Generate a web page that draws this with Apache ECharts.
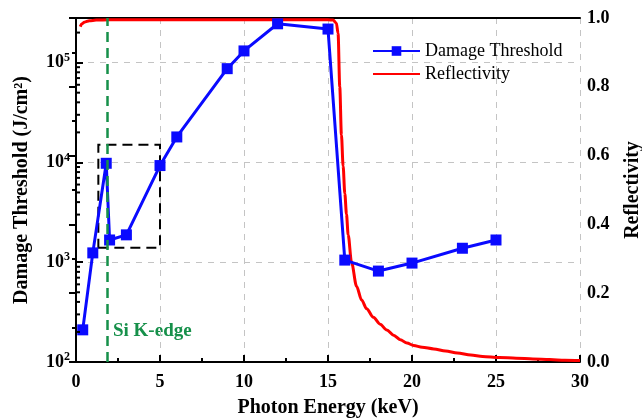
<!DOCTYPE html>
<html>
<head>
<meta charset="utf-8">
<script src="https://cdn.jsdelivr.net/npm/echarts@6/dist/echarts.min.js"></script>
<style>
html, body { margin: 0; padding: 0; background: #fff; }
#chart { width: 642px; height: 419px; }
</style>
</head>
<body>
<div id="chart"></div>
<script>
// damage threshold (J/cm^2) vs photon energy (keV)
var damageX = [0.4, 1.0, 1.8, 2.0, 3.0, 5, 6, 9, 10, 12, 15, 16, 18, 20, 23, 25];
var damageY = [210, 1240, 9800, 1670, 1880, 9300, 18000, 87000, 131000, 245000, 217000, 1050, 815, 980, 1380, 1670];

// reflectivity curve
var reflX = [0.25, 0.35, 0.5, 0.8, 1.2, 2, 4, 6, 8, 10, 12, 14, 15, 15.3, 15.5, 15.6, 15.7, 15.8, 15.9, 16.0,
    16.1, 16.2, 16.4, 16.7, 17.0, 17.3, 17.7, 18.1, 18.5, 18.9, 19.3, 19.7, 20.1, 20.6, 21.3, 22.0, 22.7,
    23.5, 24.2, 25.2, 26.2, 27.2, 28.2, 29.1, 30];
var reflY = [0.975, 0.983, 0.988, 0.992, 0.994, 0.995, 0.995, 0.995, 0.995, 0.995, 0.995, 0.995, 0.995, 0.994,
    0.985, 0.955, 0.80, 0.66, 0.57, 0.49, 0.43, 0.37, 0.29, 0.22, 0.18, 0.155, 0.13, 0.11, 0.093, 0.078, 0.065,
    0.055, 0.048, 0.043, 0.038, 0.032, 0.026, 0.02, 0.016, 0.013, 0.011, 0.009, 0.007, 0.005, 0.004];

// Si K-edge and zoom box
var siEdge = 1.84;
var boxX = [1.33, 5];
var boxY = [1400, 15000];

// log minor ticks on left axis
var logMinorTicks = [200, 300, 400, 500, 600, 700, 800, 900,
    2000, 3000, 4000, 5000, 6000, 7000, 8000, 9000,
    20000, 30000, 40000, 50000, 60000, 70000, 80000, 90000, 200000];

var serif = 'Liberation Serif';
var chart = echarts.init(document.getElementById('chart'));

function pair(xs, ys) {
    var out = [];
    for (var i = 0; i < xs.length; i++) out.push([xs[i], ys[i]]);
    return out;
}

var gridLine = { show: true, lineStyle: { color: '#c4c4c4', type: [6, 6], width: 1 } };

var option = {
    animation: false,
    backgroundColor: '#fff',
    grid: {
        left: 76, right: 62, top: 18, bottom: 57,
        outerBoundsMode: 'none'
    },
    legend: {
        data: [
            { name: 'Damage Threshold' },
            { name: 'Reflectivity', itemStyle: { opacity: 0 } }
        ],
        orient: 'vertical',
        left: 372, top: 42, padding: 0,
        itemWidth: 47, itemHeight: 12, itemGap: 5,
        textStyle: { fontFamily: serif, fontSize: 18, color: '#000' }
    },
    xAxis: [{
        type: 'value', min: 0, max: 30, interval: 5,
        name: 'Photon Energy (keV)', nameLocation: 'middle', nameGap: 36,
        nameTextStyle: { fontFamily: serif, fontSize: 20, fontWeight: 'bold', color: '#000' },
        axisLine: { lineStyle: { color: '#000', width: 2 } },
        axisTick: { inside: true, length: 7, lineStyle: { width: 2, color: '#000' } },
        minorTick: { show: true, splitNumber: 2, length: 4, lineStyle: { width: 2, color: '#000' } },
        axisLabel: { fontFamily: serif, fontSize: 18, fontWeight: 'bold', color: '#000', margin: 11 },
        splitLine: gridLine
    }, {
        // top frame line
        type: 'value', position: 'top', min: 0, max: 30,
        axisLine: { show: true, lineStyle: { color: '#000', width: 2 } },
        axisTick: { show: false }, axisLabel: { show: false }, splitLine: { show: false }
    }],
    yAxis: [{
        type: 'log', logBase: 10, min: 100, max: 280000,
        name: 'Damage Threshold (J/cm²)', nameLocation: 'middle', nameGap: 44, nameRotate: 90,
        nameTextStyle: {
            fontFamily: serif, fontSize: 20, fontWeight: 'bold', color: '#000'
        },
        axisLine: { show: true, lineStyle: { color: '#000', width: 2 } },
        axisTick: { inside: true, length: 7, lineStyle: { width: 2, color: '#000' } },
        axisLabel: {
            margin: 6,
            formatter: function (v) {
                var e = Math.log10(v);
                var r = Math.round(e);
                if (Math.abs(e - r) > 1e-6) return '';
                return '{b|10}{s|' + r + '}';
            },
            rich: {
                b: { fontFamily: serif, fontSize: 18, fontWeight: 'bold', color: '#000' },
                s: { fontFamily: serif, fontSize: 12, fontWeight: 'bold', color: '#000', padding: [0, 0, 10, 0] }
            }
        },
        splitLine: gridLine
    }, {
        type: 'value', min: 0, max: 1, interval: 0.2,
        name: 'Reflectivity', nameLocation: 'middle', nameGap: 43, nameRotate: 90,
        nameTextStyle: { fontFamily: serif, fontSize: 20, fontWeight: 'bold', color: '#000' },
        axisLine: { show: true, lineStyle: { color: '#000', width: 2 } },
        axisTick: { inside: true, length: 7, lineStyle: { width: 2, color: '#000' } },
        minorTick: { show: true, splitNumber: 2, length: 4, lineStyle: { width: 2, color: '#000' } },
        axisLabel: {
            fontFamily: serif, fontSize: 18, fontWeight: 'bold', color: '#000', margin: 7,
            formatter: function (v) { return v.toFixed(1); }
        },
        splitLine: { show: false }
    }],
    graphic: [{
        type: 'text', left: 113, top: 322,
        style: { text: 'Si K-edge', fontFamily: serif, fontSize: 19, fontWeight: 'bold', fill: '#16904a' }
    }],
    series: [{
        name: 'Reflectivity',
        type: 'line', yAxisIndex: 1,
        data: pair(reflX, reflY),
        symbol: 'none',
        smooth: 0.3, smoothMonotone: 'x',
        lineStyle: { color: '#ff0000', width: 3 },
        itemStyle: { color: '#ff0000' },
        z: 2
    }, {
        name: 'Damage Threshold',
        type: 'line', yAxisIndex: 0,
        data: pair(damageX, damageY),
        symbol: 'rect', symbolSize: 11,
        lineStyle: { color: '#0a0aff', width: 3 },
        itemStyle: { color: '#0a0aff' },
        z: 3,
        markLine: {
            silent: true, symbol: 'none', label: { show: false },
            lineStyle: { color: '#16904a', width: 2.5, type: [10, 6] },
            data: [{ xAxis: siEdge }]
        },
        markArea: {
            silent: true,
            itemStyle: { color: 'rgba(0,0,0,0)', borderColor: '#000', borderWidth: 2, borderType: [10, 6] },
            data: [[{ coord: [boxX[0], boxY[0]] }, { coord: [boxX[1], boxY[1]] }]]
        }
    }, {
        // minor ticks on the log axis
        type: 'custom', yAxisIndex: 0, silent: true,
        data: logMinorTicks.map(function (v) { return [0, v]; }),
        renderItem: function (params, api) {
            var p = api.coord([0, api.value(1)]);
            return {
                type: 'line',
                shape: { x1: p[0], y1: p[1], x2: p[0] + 4, y2: p[1] },
                style: { stroke: '#000', lineWidth: 2 }
            };
        },
        z: 5
    }]
};

chart.setOption(option);
</script>
</body>
</html>
